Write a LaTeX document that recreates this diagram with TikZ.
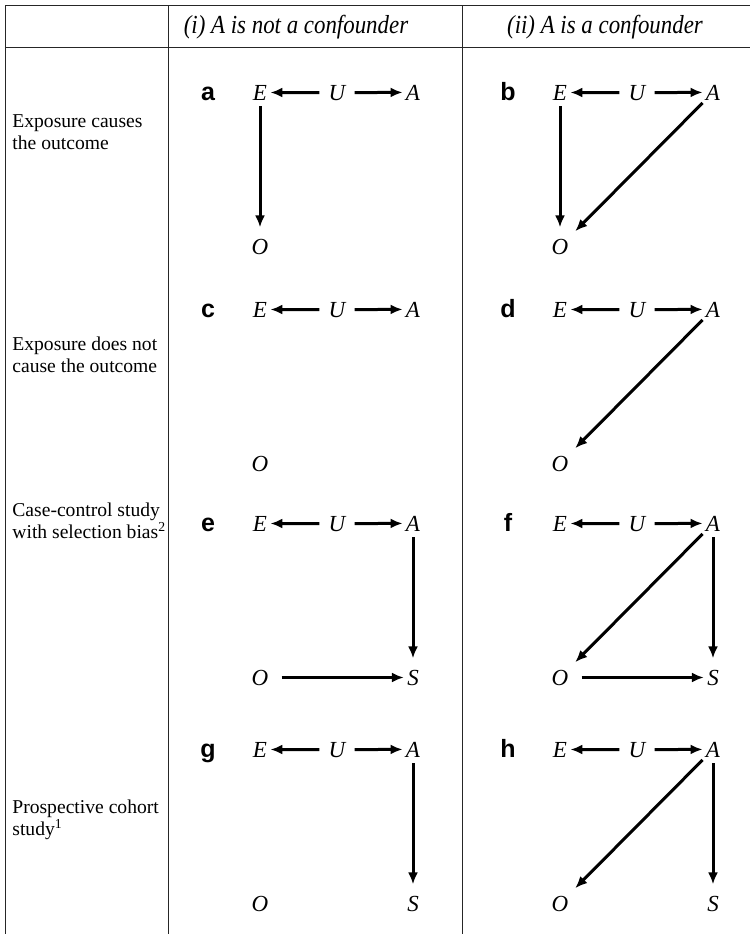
\documentclass[tikz,border=0pt]{standalone}
\usepackage{fontspec}
\setmainfont{Liberation Serif}
\setsansfont{Liberation Sans}
\newfontfamily\headfont[FakeStretch=0.88]{Liberation Serif}
\usetikzlibrary{arrows.meta,positioning}

\begin{document}
\begin{tikzpicture}[x=0.5pt,y=-0.5pt,>={Latex[length=6pt,width=5pt]},
 var/.style={font=\fontsize{11.5}{12}\selectfont\itshape,inner xsep=1.5pt,inner ysep=3pt,anchor=base},
 tag/.style={font=\fontsize{12.5}{12.5}\sffamily\bfseries,inner sep=0pt,anchor=base},
 rowtxt/.style={anchor=north west,align=left,font=\fontsize{9.8}{11}\selectfont,inner sep=0pt},
 head/.style={font=\fontsize{13}{14}\headfont\itshape,inner sep=0pt},
 rule/.style={line width=0.5pt,black!85},
 edge/.style={->,line width=1.5pt},
 side/.style={edge,shorten <=3pt},
 drop/.style={edge,shorten >=2.5pt}]
\useasboundingbox (0,0) rectangle (750,934);
% table rules
\draw[rule] (5,5) -- (750,5) (5,47) -- (750,47);
\draw[rule] (5,5) -- (5,934) (168,5) -- (168,934) (462,5) -- (462,934);
% column heads
\node[head] (headi) at (296,27) {(i) A is not a confounder};
\node[head] (headii) at (605,27) {(ii) A is a confounder};
% row labels
\node[rowtxt] (row1) at (12,114.5) {Exposure causes\\the outcome};
\node[rowtxt] (row2) at (12,336.5) {Exposure does not\\cause the outcome};
\node[rowtxt] (row3) at (12,502.5) {Case-control study\\with selection bias\textsuperscript{2}};
\node[rowtxt] (row4) at (12,799.5) {Prospective cohort\\study\textsuperscript{1}};
% E <- U -> A and O in every panel
\foreach \p/\x/\y in {a/260/100,b/560/100,c/260/317,d/560/317,e/260/531,f/560/531,g/260/757,h/560/757}{
  \node[tag] (tag\p) at (\x-52,\y) {\p};
  \node[var] (E\p) at (\x,\y) {E};
  \node[var] (U\p) at (\x+77,\y) {U};
  \node[var] (A\p) at (\x+153,\y) {A};
  \node[var] (O\p) at (\x,\y+154) {O};
  \draw[side] (U\p) -- (E\p);
  \draw[side] (U\p) -- (A\p);
}
% selection nodes
\node[var] (Se) at (413,685) {S};
\node[var] (Sf) at (713,685) {S};
\node[var] (Sg) at (413,911) {S};
\node[var] (Sh) at (713,911) {S};
% remaining arrows
\draw[drop] (Ea) -- (Oa);
\draw[drop] (Eb) -- (Ob);
\draw[drop] (Ab) -- (Ob);
\draw[drop] (Ad) -- (Od);
\draw[drop] (Ae) -- (Se);
\draw[edge,shorten <=5pt] (Oe) -- (Se);
\draw[drop] (Af) -- (Of);
\draw[drop] (Af) -- (Sf);
\draw[edge,shorten <=5pt] (Of) -- (Sf);
\draw[drop] (Ag) -- (Sg);
\draw[drop] (Ah) -- (Oh);
\draw[drop] (Ah) -- (Sh);
\end{tikzpicture}
\end{document}
